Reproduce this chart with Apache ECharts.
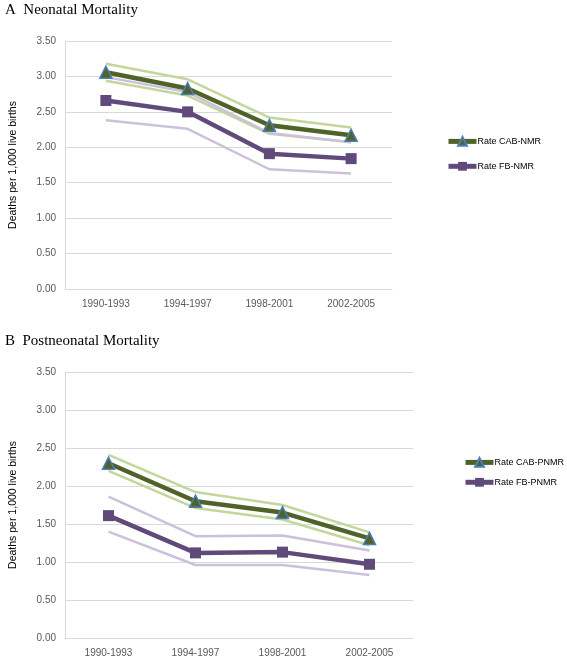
<!DOCTYPE html>
<html><head><meta charset="utf-8">
<script src="https://cdn.jsdelivr.net/npm/echarts@6/dist/echarts.min.js"></script>
<style>html,body{margin:0;padding:0;background:#fff}#c{width:567px;height:658px}</style>
</head><body><div id="c"></div>
<script>
const categories = ['1990-1993','1994-1997','1998-2001','2002-2005'];
const yTicksMax = 3.5;
// Panel A: Neonatal mortality
const cabNMR = [3.06, 2.83, 2.31, 2.17];
const cabNMRUpper = [3.18, 2.96, 2.42, 2.28];
const cabNMRLower = [2.94, 2.73, 2.19, 2.07];
const fbNMR = [2.66, 2.50, 1.91, 1.84];
const fbNMRUpper = [2.99, 2.78, 2.20, 2.07];
const fbNMRLower = [2.38, 2.26, 1.69, 1.63];
// Panel B: Postneonatal mortality
const cabPNMR = [2.30, 1.80, 1.65, 1.31];
const cabPNMRUpper = [2.41, 1.92, 1.75, 1.39];
const cabPNMRLower = [2.20, 1.71, 1.56, 1.22];
const fbPNMR = [1.61, 1.12, 1.13, 0.97];
const fbPNMRUpper = [1.86, 1.34, 1.35, 1.15];
const fbPNMRLower = [1.40, 0.96, 0.96, 0.83];

const GREEN = '#4f6228', LGREEN = '#c3d69b', PURPLE = '#604a7b', LPURPLE = '#ccc1da';
const FONT = 'Liberation Sans';

function ci(data, color, idx) {
  return {type:'line', data, xAxisIndex:idx, yAxisIndex:idx, symbol:'none', silent:true,
    lineStyle:{color, width:2.5}, itemStyle:{color}, z:1};
}
function main(name, data, color, symbol, idx, border) {
  return {name, type:'line', data, xAxisIndex:idx, yAxisIndex:idx, symbol, symbolSize: symbol==='triangle'?12:11,
    lineStyle:{color, width:4.5}, itemStyle:{color, borderColor:border||color, borderWidth:border?1.5:0}, z:3};
}
const chart = echarts.init(document.getElementById('c'), null, {renderer:'canvas'});
function xAx(idx){return {type:'category', gridIndex:idx, data:categories, boundaryGap:true,
  axisLine:{lineStyle:{color:'#d9d9d9'}}, axisTick:{show:false},
  axisLabel:{color:'#595959', fontFamily:FONT, fontSize:10, margin:10}};}
function yAx(idx){return {type:'value', gridIndex:idx, min:0, max:yTicksMax, interval:0.5,
  name:'Deaths per 1,000 live births', nameLocation:'middle', nameRotate:90, nameGap:46,
  nameTextStyle:{color:'#000', fontFamily:FONT, fontSize:10.5},
  axisLine:{show:true, lineStyle:{color:'#d9d9d9'}}, axisTick:{show:false},
  splitLine:{lineStyle:{color:'#d9d9d9'}},
  axisLabel:{color:'#595959', fontFamily:FONT, fontSize:10, margin:9, formatter:v=>v.toFixed(2)}};}
const legendCommon = {orient:'vertical', itemWidth:28, itemHeight:11,
  lineStyle:{width:5}, textStyle:{fontFamily:FONT, fontSize:9, color:'#000', padding:[0,0,0,-4]}};
chart.setOption({
  animation:false,
  title:[
    {text:'A  Neonatal Mortality', left:0, top:-2, textStyle:{fontFamily:'Liberation Serif', fontSize:15, fontWeight:'normal', color:'#000'}},
    {text:'B  Postneonatal Mortality', left:0, top:329, textStyle:{fontFamily:'Liberation Serif', fontSize:15, fontWeight:'normal', color:'#000'}}
  ],
  legend:[
    Object.assign({data:['Rate CAB-NMR','Rate FB-NMR'], left:441, top:131, itemGap:15}, legendCommon),
    Object.assign({data:['Rate CAB-PNMR','Rate FB-PNMR'], left:458, top:452, itemGap:10}, legendCommon)
  ],
  grid:[
    {left:62, top:41, width:330, height:248},
    {left:61, top:372, width:352, height:268}
  ],
  xAxis:[xAx(0), xAx(1)],
  yAxis:[yAx(0), yAx(1)],
  series:[
    ci(cabNMRUpper, LGREEN, 0), ci(cabNMRLower, LGREEN, 0),
    ci(fbNMRUpper, LPURPLE, 0), ci(fbNMRLower, LPURPLE, 0),
    main('Rate CAB-NMR', cabNMR, GREEN, 'triangle', 0, '#4a7ebb'),
    main('Rate FB-NMR', fbNMR, PURPLE, 'rect', 0),
    ci(cabPNMRUpper, LGREEN, 1), ci(cabPNMRLower, LGREEN, 1),
    ci(fbPNMRUpper, LPURPLE, 1), ci(fbPNMRLower, LPURPLE, 1),
    main('Rate CAB-PNMR', cabPNMR, GREEN, 'triangle', 1, '#4a7ebb'),
    main('Rate FB-PNMR', fbPNMR, PURPLE, 'rect', 1)
  ]
});
</script></body></html>
